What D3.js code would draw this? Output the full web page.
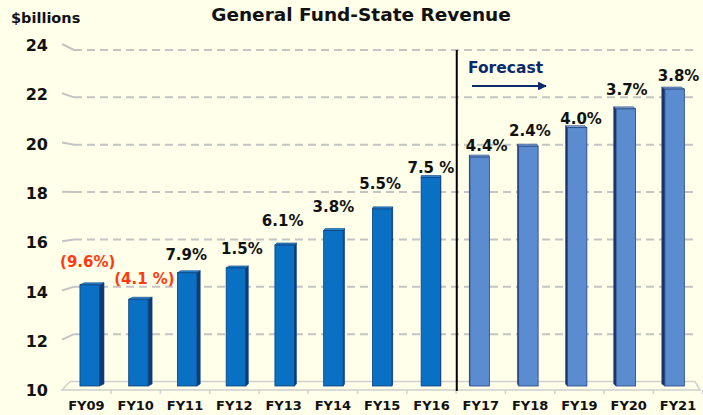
<!DOCTYPE html>
<html>
<head>
<meta charset="utf-8">
<script src="https://cdn.jsdelivr.net/npm/d3@7"></script>
<style>
  body { margin: 0; background: #ffffea; }
  svg { display: block; font-family: "DejaVu Sans", Verdana, sans-serif; }
</style>
</head>
<body>
<div id="chart"></div>
<script>
// data
var years = ["FY09", "FY10", "FY11", "FY12", "FY13", "FY14", "FY15", "FY16", "FY17", "FY18", "FY19", "FY20", "FY21"];
var revenue = [14.2, 13.6, 14.7, 14.9, 15.85, 16.45, 17.35, 18.65, 19.5, 19.95, 20.72, 21.5, 22.32];
var growth = ["(9.6%)", "(4.1 %)", "7.9%", "1.5%", "6.1%", "3.8%", "5.5%", "7.5 %", "4.4%", "2.4%", "4.0%", "3.7%", "3.8%"];
var forecastYears = ["FY17", "FY18", "FY19", "FY20", "FY21"];
var yTicks = [10, 12, 14, 16, 18, 20, 22, 24];

// label nudges (layout only)
var labelLift = [18, 15, 13, 14, 19, 19, 20, 5, 6, 10, 4, 14, 8];
var labelShift = [-2, 6, -1, 6, -2, 0, -2, 0, 7, 1.5, 4, 1, 4];

var svgWidth = 703;
var svgHeight = 415;

var svg = d3.select("#chart")
  .append("svg")
  .attr("width", svgWidth)
  .attr("height", svgHeight);

svg.append("rect")
  .attr("width", svgWidth)
  .attr("height", svgHeight)
  .attr("fill", "#ffffea");

// three depth planes of the fake 3d chart
var yBack = d3.scaleLinear().domain([10, 24]).range([381.5, 50]);
var yFront = d3.scaleLinear().domain([10, 24]).range([389, 44]);
var yBar = d3.scaleLinear().domain([10, 24]).range([386, 48.6]);

var xBar = d3.scalePoint().domain(years).range([89.7, 674.6]);
var xFront = d3.scalePoint().domain(years).range([86.4, 678]);
var stepFront = xFront.step();

// Gridlines
var grid = svg.append("g");
yTicks.filter(d => d > 10).forEach(function(t) {
  grid.append("line")
    .attr("x1", 62).attr("y1", yFront(t))
    .attr("x2", 74).attr("y2", yBack(t))
    .attr("stroke", "#c4c4c4")
    .attr("stroke-width", 2);
  grid.append("line")
    .attr("x1", 74).attr("y1", yBack(t))
    .attr("x2", 693).attr("y2", yBack(t))
    .attr("stroke", "#c4c4c4")
    .attr("stroke-width", 2)
    .attr("stroke-dasharray", "8,5");
});

// Floor
svg.append("path")
  .attr("d", `M62,${yFront(10) + 1} L70,${yBack(10)} L695,${yBack(10)} L700,${yFront(10) + 1} Z`)
  .attr("fill", "none")
  .attr("stroke", "#d0d0d0")
  .attr("stroke-width", 1.5);

svg.selectAll(".floorTick")
  .data(years)
  .enter()
  .append("line")
  .attr("x1", d => xFront(d) + stepFront / 2)
  .attr("x2", d => xFront(d) + stepFront / 2)
  .attr("y1", yFront(10) + 1)
  .attr("y2", yFront(10) + 5)
  .attr("stroke", "#d0d0d0")
  .attr("stroke-width", 1.5);

// Bars
var barW = 19.5;
var bars = svg.append("g");
years.forEach(function(yr, i) {
  var v = revenue[i];
  var fc = forecastYears.indexOf(yr) >= 0;
  var cx = xBar(yr);
  var x0 = cx - barW / 2, x1 = cx + barW / 2;
  var yt = yBar(v), yb = yBar(10);
  var s = (440 - cx) * 0.013;
  var face = fc ? "#5b8ccf" : "#0a70c4";
  var side = fc ? "#1c3260" : "#0c3c78";
  var top = fc ? "#7ea6dc" : "#2b86d2";
  var edge = fc ? "#23427e" : "#0b3f7e";

  if (s > 0) {
    bars.append("path")
      .attr("d", `M${x1},${yt} L${x1 + s},${yt - 2} L${x1 + s},${yb - 2} L${x1},${yb} Z`)
      .attr("fill", side).attr("stroke", edge).attr("stroke-width", 0.6);
  } else {
    bars.append("path")
      .attr("d", `M${x0},${yt} L${x0 + s},${yt - 2} L${x0 + s},${yb - 2} L${x0},${yb} Z`)
      .attr("fill", side).attr("stroke", edge).attr("stroke-width", 0.6);
  }
  bars.append("path")
    .attr("d", `M${x0},${yt} L${x1},${yt} L${x1 + s},${yt - 2} L${x0 + s},${yt - 2} Z`)
    .attr("fill", top).attr("stroke", edge).attr("stroke-width", 0.6);
  bars.append("rect")
    .attr("x", x0)
    .attr("y", yt)
    .attr("width", barW)
    .attr("height", yb - yt)
    .attr("fill", face)
    .attr("stroke", edge)
    .attr("stroke-width", 0.8);
});

// Growth labels
svg.selectAll(".growth")
  .data(years)
  .enter()
  .append("text")
  .attr("x", (d, i) => xBar(d) + labelShift[i])
  .attr("y", (d, i) => yBar(revenue[i]) - labelLift[i])
  .attr("text-anchor", "middle")
  .attr("font-size", "15px")
  .attr("font-weight", "bold")
  .attr("fill", (d, i) => growth[i].charAt(0) === "(" ? "#ff3a10" : "#111")
  .text((d, i) => growth[i]);

// Y axis labels
svg.selectAll(".ytick")
  .data(yTicks)
  .enter()
  .append("text")
  .attr("x", 48)
  .attr("y", d => yFront(d) + 1.5)
  .attr("dy", "0.35em")
  .attr("text-anchor", "end")
  .attr("font-size", "16px")
  .attr("font-weight", "bold")
  .attr("fill", "#111")
  .text(d => d);

// X axis labels
svg.selectAll(".xtick")
  .data(years)
  .enter()
  .append("text")
  .attr("x", d => xFront(d))
  .attr("y", 410)
  .attr("text-anchor", "middle")
  .attr("font-size", "13px")
  .attr("font-weight", "bold")
  .attr("fill", "#111")
  .text(d => d);

// Forecast divider
var divX = (xBar("FY16") + xBar("FY17")) / 2 + 1.5;
svg.append("line")
  .attr("x1", divX).attr("x2", divX)
  .attr("y1", yBack(24))
  .attr("y2", yFront(10) + 2)
  .attr("stroke", "#000")
  .attr("stroke-width", 2);

svg.append("text")
  .attr("x", 468)
  .attr("y", 73)
  .attr("font-size", "15.5px")
  .attr("font-weight", "bold")
  .attr("fill", "#0b2a6b")
  .text("Forecast");

svg.append("defs").append("marker")
  .attr("id", "arrow")
  .attr("viewBox", "0 0 10 10")
  .attr("refX", 9).attr("refY", 5)
  .attr("markerWidth", 4).attr("markerHeight", 4)
  .attr("orient", "auto")
  .append("path")
  .attr("d", "M0,0 L10,5 L0,10 Z")
  .attr("fill", "#0b2a6b");

svg.append("line")
  .attr("x1", 472).attr("y1", 86)
  .attr("x2", 546).attr("y2", 86)
  .attr("stroke", "#0b2a6b")
  .attr("stroke-width", 2.2)
  .attr("marker-end", "url(#arrow)");

// Titles
svg.append("text")
  .attr("x", 361)
  .attr("y", 21)
  .attr("text-anchor", "middle")
  .attr("font-size", "18.5px")
  .attr("font-weight", "bold")
  .attr("fill", "#111")
  .text("General Fund-State Revenue");

svg.append("text")
  .attr("x", 11)
  .attr("y", 23)
  .attr("font-size", "14.5px")
  .attr("font-weight", "bold")
  .attr("fill", "#111")
  .text("$billions");
</script>
</body>
</html>
